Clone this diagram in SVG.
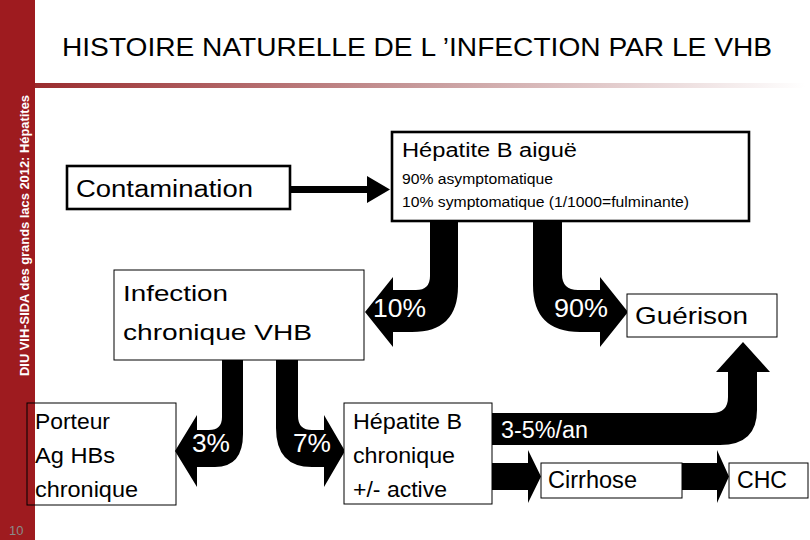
<svg xmlns="http://www.w3.org/2000/svg" width="810" height="540" viewBox="0 0 810 540">
<defs>
<linearGradient id="rule" x1="0" y1="0" x2="1" y2="0">
<stop offset="0" stop-color="#9a2c2e"/>
<stop offset="0.5" stop-color="#c79a9b"/>
<stop offset="1" stop-color="#ffffff"/>
</linearGradient>
<style>
text{font-family:"Liberation Sans",Arial,sans-serif;fill:#000}
.box{fill:#fff;stroke:#000;stroke-width:1}
.thick{stroke-width:2.6}
.arr{fill:#000;stroke:none}
.lbl{fill:#fff}
</style>
</defs>
<rect x="0" y="0" width="810" height="540" fill="#fff"/>
<rect x="0" y="0" width="35" height="540" fill="#9e1b1f"/>
<rect x="35" y="83" width="770" height="5" fill="url(#rule)"/>
<text transform="translate(29,376) rotate(-90)" font-family="'Open Sans','DejaVu Sans',sans-serif" font-weight="bold" font-size="12" style="fill:#fff" textLength="281" lengthAdjust="spacingAndGlyphs">DIU  VIH-SIDA des grands lacs 2012: Hépatites</text>
<text x="9" y="535" font-size="13" style="fill:#8a8a8a">10</text>
<text x="62" y="56" font-size="26" style="font-family:'Liberation Sans Narrow','Liberation Sans',Arial,sans-serif" textLength="710" lengthAdjust="spacingAndGlyphs">HISTOIRE NATURELLE DE L ’INFECTION PAR LE VHB</text>

<g id="connectors">
<path class="arr" d="M290,186 L367,186 L367,176 L390,189.5 L367,203 L367,193 L290,193 Z"/>
<path class="arr" d="M430,221 L430,276 Q430,290 416,290 L393,290 L393,277 L365,312 L393,347 L393,332 L412,332 Q458,332 458,286 L458,221 Z"/>
<path class="arr" d="M562,221 L562,274 Q562,290 578,290 L600,290 L600,277 L628,312 L600,347 L600,332 L580,332 Q533,332 533,285 L533,221 Z"/>
<path class="arr" d="M222,360 L222,417 Q222,430 209,430 L197,430 L197,415 L175,451 L197,487 L197,467 L215,467 Q243,467 243,434 L243,360 Z"/>
<path class="arr" d="M298,360 L298,416 Q298,430 312,430 L324,430 L324,415 L345,451 L324,487 L324,467 L312,467 Q276,467 276,428 L276,360 Z"/>
<path class="arr" d="M492,413 L712,413 Q728,413 728,397 L728,372 L716,372 L743,342 L770,372 L757,372 L757,410 Q757,445 720,445 L492,445 Z"/>
<path class="arr" d="M492,463 L528,463 L528,450 L541,476.5 L528,503 L528,490 L492,490 Z"/>
<path class="arr" d="M682,463 L717,463 L717,450 L729,476.5 L717,503 L717,490 L682,490 Z"/>
<text class="lbl" x="373" y="317" font-size="26" textLength="53" lengthAdjust="spacingAndGlyphs">10%</text>
<text class="lbl" x="554" y="317" font-size="26" textLength="54" lengthAdjust="spacingAndGlyphs">90%</text>
<text class="lbl" x="192" y="452" font-size="25" textLength="38" lengthAdjust="spacingAndGlyphs">3%</text>
<text class="lbl" x="293" y="452" font-size="25" textLength="38" lengthAdjust="spacingAndGlyphs">7%</text>
<text class="lbl" x="501" y="438" font-size="23.5" textLength="87" lengthAdjust="spacingAndGlyphs">3-5%/an</text>
</g>

<g id="contamination">
<rect class="box thick" x="67" y="166" width="223" height="43"/>
<text x="76" y="197" font-size="23" textLength="177" lengthAdjust="spacingAndGlyphs">Contamination</text>
</g>
<g id="hepatite-aigue">
<rect class="box thick" x="392" y="132" width="357" height="89"/>
<text x="402" y="157" font-size="20" textLength="175" lengthAdjust="spacingAndGlyphs">Hépatite B aiguë</text>
<text x="402" y="184" font-size="14" textLength="151" lengthAdjust="spacingAndGlyphs">90% asymptomatique</text>
<text x="402" y="207" font-size="14" textLength="287" lengthAdjust="spacingAndGlyphs">10% symptomatique (1/1000=fulminante)</text>
</g>
<g id="infection-chronique">
<rect class="box" x="114" y="270" width="250" height="90"/>
<text x="123" y="301" font-size="22" textLength="105" lengthAdjust="spacingAndGlyphs">Infection</text>
<text x="123" y="340" font-size="22" textLength="189" lengthAdjust="spacingAndGlyphs">chronique VHB</text>
</g>
<g id="guerison">
<rect class="box" x="627" y="294" width="150" height="43"/>
<text x="635" y="324" font-size="24" textLength="113" lengthAdjust="spacingAndGlyphs">Guérison</text>
</g>
<g id="porteur">
<rect class="box" x="27" y="403" width="149" height="102" style="fill:none"/>
<text x="35" y="429" font-size="22" textLength="75" lengthAdjust="spacingAndGlyphs">Porteur</text>
<text x="35" y="463" font-size="22" textLength="80" lengthAdjust="spacingAndGlyphs">Ag HBs</text>
<text x="35" y="497" font-size="22" textLength="103" lengthAdjust="spacingAndGlyphs">chronique</text>
</g>
<g id="hepatite-chronique">
<rect class="box" x="344" y="403" width="148" height="101"/>
<text x="353" y="429" font-size="22" textLength="109" lengthAdjust="spacingAndGlyphs">Hépatite B</text>
<text x="353" y="463" font-size="22" textLength="102" lengthAdjust="spacingAndGlyphs">chronique</text>
<text x="353" y="497" font-size="22" textLength="94" lengthAdjust="spacingAndGlyphs">+/- active</text>
</g>
<g id="cirrhose">
<rect class="box" x="541" y="463" width="141" height="35"/>
<text x="548" y="488" font-size="23" textLength="89" lengthAdjust="spacingAndGlyphs">Cirrhose</text>
</g>
<g id="chc">
<rect class="box" x="729" y="463" width="79" height="35"/>
<text x="737" y="488" font-size="23" textLength="50" lengthAdjust="spacingAndGlyphs">CHC</text>
</g>
</svg>
